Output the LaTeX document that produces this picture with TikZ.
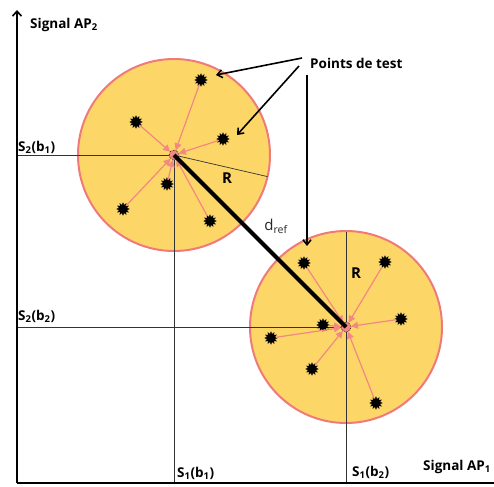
\documentclass[tikz,border=0pt]{standalone}
\usepackage{fontspec}
\setmainfont{Open Sans}
\usetikzlibrary{shapes.geometric,arrows.meta}
\definecolor{zonefill}{RGB}{253,214,104}
\definecolor{zoneedge}{RGB}{240,122,122}
\definecolor{pinkarr}{RGB}{243,135,130}
\begin{document}
\begin{tikzpicture}[x=1pt,y=-1pt,
  lbl/.style={font=\bfseries\fontsize{13.5}{15}\selectfont, inner sep=0pt},
  zone/.style={circle, draw=zoneedge, line width=2pt, fill=zonefill, minimum size=192pt, inner sep=0pt},
  tp/.style={star, star points=12, star point ratio=1.6, minimum size=12.5pt, inner sep=0pt, fill=black, draw=black, line width=0.3pt},
  ctr/.style={circle, fill=pinkarr, draw=black, densely dotted, line width=0.6pt, minimum size=10pt, inner sep=0pt},
  thin/.style={draw=black!80, line width=0.7pt},
  toc/.style={draw=pinkarr, line width=1.2pt, -{Triangle[length=7pt,width=7pt]}, shorten >=5pt},
  callout/.style={draw=black, line width=1.6pt, -{Straight Barb[length=5pt,width=8pt,line width=1.6pt]}}
]
\useasboundingbox (0,0) rectangle (494,486);
% zones
\node[zone] (z1) at (174,155) {};
\node[zone] (z2) at (346,327) {};
% reference coordinates
\coordinate (o) at (17,483);
\coordinate (ytop) at (17,10);
\coordinate (xend) at (494,483);
\coordinate (c1) at (174,155);
\coordinate (c2) at (346,327);
\coordinate (h1) at (17,155);
\coordinate (h2) at (17,327);
\coordinate (v1) at (174,483);
\coordinate (v2) at (346,483);
\coordinate (r1) at (267.5,176.6);
\coordinate (r2) at (346,232);
% thin guide lines
\draw[thin] (h1) -- (c1);
\draw[thin] (c1) -- (v1);
\draw[thin] (h2) -- (c2);
\draw[thin] (r2) -- (v2);
\draw[thin] (c1) -- (r1);
% test points circle 1
\node[tp] (a1) at (201,80) {};
\node[tp] (a2) at (136,122) {};
\node[tp] (a3) at (223,139) {};
\node[tp] (a4) at (167,184) {};
\node[tp] (a5) at (123,209) {};
\node[tp] (a6) at (210,221) {};
% test points circle 2
\node[tp] (b1) at (304,263) {};
\node[tp] (b2) at (385,262) {};
\node[tp] (b3) at (401,319) {};
\node[tp] (b4) at (323,325) {};
\node[tp] (b5) at (271,338) {};
\node[tp] (b6) at (312,369) {};
\node[tp] (b7) at (376,403) {};
% centres
\node[ctr] (k1) at (c1) {};
\node[ctr] (k2) at (c2) {};
% pink arrows
\foreach \s in {a1,a2,a3,a4,a5,a6} \draw[toc] (\s) -- (c1);
\foreach \s in {b1,b2,b3,b4,b5,b6,b7} \draw[toc] (\s) -- (c2);
% d_ref
\draw[black, line width=4pt] (k1.center) -- (k2.center);
% axes
\draw[black, line width=1.8pt, -{Straight Barb[length=5pt,width=9pt,line width=1.6pt]}] (o) -- (ytop);
\draw[black, line width=1.8pt] (o) -- (xend);
% labels
\node[lbl, anchor=west] (yl) at (30,25) {Signal AP\textsubscript{2}};
\node[lbl, anchor=west] (xl) at (423,467) {Signal AP\textsubscript{1}};
\node[lbl, anchor=west] (s21) at (18,147) {S\textsubscript{2}(b\textsubscript{1})};
\node[lbl, anchor=west] (s22) at (18,316) {S\textsubscript{2}(b\textsubscript{2})};
\node[lbl, anchor=west] (s11) at (177,473) {S\textsubscript{1}(b\textsubscript{1})};
\node[lbl, anchor=west] (s12) at (352,472) {S\textsubscript{1}(b\textsubscript{2})};
\node[lbl, anchor=center, font=\bfseries\fontsize{15}{17}\selectfont] (R1) at (227,178) {R};
\node[lbl, anchor=center, font=\bfseries\fontsize{15}{17}\selectfont] (R2) at (356,273) {R};
\node[inner sep=0pt, text=black!85, font=\fontsize{15}{17}\selectfont] (dl) at (276,226) {d\textsubscript{ref}};
\node[lbl, anchor=west] (pt) at (310,63) {Points de test};
% callouts
\coordinate (p1) at (302,58);
\coordinate (p2) at (299,66);
\coordinate (p3) at (307,75);
\coordinate (t1) at (216,75);
\coordinate (t2) at (237,135);
\coordinate (t3) at (307,246);
\draw[callout] (p1) -- (t1);
\draw[callout] (p2) -- (t2);
\draw[callout] (p3) -- (t3);
\end{tikzpicture}
\end{document}
